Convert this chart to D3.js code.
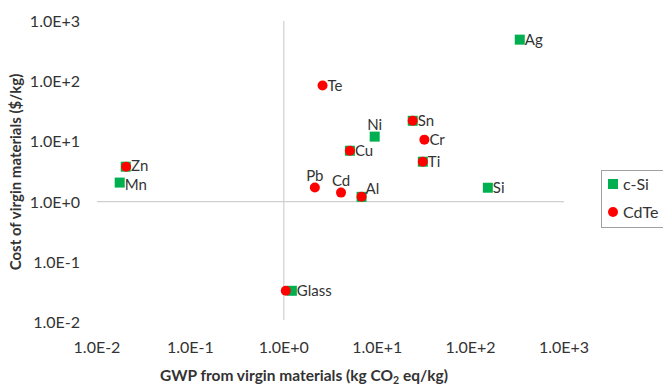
<!DOCTYPE html>
<html><head><meta charset="utf-8">
<script src="https://cdn.jsdelivr.net/npm/d3@7"></script>
<style>body{margin:0;background:#fff;overflow:hidden}svg{display:block}text{font-family:Lato,"Open Sans",sans-serif}</style>
</head><body>
<script>
// Data (GWP kg CO2 eq/kg, cost $/kg)
const materials = ["Ag","Ni","Sn","Cu","Ti","Si","Al","Zn","Mn","Glass","Te","Cr","Pb","Cd"];
const cSiMaterials = ["Ag","Ni","Sn","Cu","Ti","Si","Al","Zn","Mn","Glass"];
const cSiGWP  = [336, 9.4, 24, 5.1, 30.8, 153, 6.8, 0.0203, 0.0175, 1.22];
const cSiCost = [490, 12, 22, 7.0, 4.6, 1.7, 1.2, 3.8, 2.07, 0.033];
const cdTeMaterials = ["Te","Sn","Cr","Cu","Ti","Pb","Cd","Al","Zn","Glass"];
const cdTeGWP  = [2.6, 24, 32, 5.1, 30.8, 2.15, 4.1, 6.8, 0.0205, 1.05];
const cdTeCost = [85, 22, 10.7, 7.0, 4.6, 1.71, 1.41, 1.2, 3.8, 0.033];
const xTicks = [1e-2, 1e-1, 1e0, 1e1, 1e2, 1e3];
const yTicks = [1e-2, 1e-1, 1e0, 1e1, 1e2, 1e3];
const seriesNames = ["c-Si", "CdTe"];

// Label anchoring: which series point each label is attached to and placement
const labelSource = {Ag:"c-Si",Ni:"c-Si",Sn:"CdTe",Cu:"CdTe",Ti:"CdTe",Si:"c-Si",Al:"CdTe",Zn:"CdTe",Mn:"c-Si",Glass:"c-Si",Te:"CdTe",Cr:"CdTe",Pb:"CdTe",Cd:"CdTe"};
const labelPlace = {Ni:"above",Pb:"above",Cd:"above",Al:"upright"};
const labelNudge = {Zn:-1.5, Mn:1.5};

const W = 663, H = 385;
const ink = "#333333";
const svg = d3.select("body").append("svg").attr("width", W).attr("height", H);
const x = d3.scaleLog().domain([1e-2, 1e3]).range([97, 564]);
const y = d3.scaleLog().domain([1e-2, 1e3]).range([322, 21]);
const fmt = v => { const e = Math.round(Math.log10(v)); return "1.0E" + (e >= 0 ? "+" : "-") + Math.abs(e); };

// crossing axes lines
svg.append("line").attr("x1", x(1e-2)).attr("x2", x(1e3)).attr("y1", y(1)).attr("y2", y(1))
  .attr("stroke", "#d0d0d0").attr("stroke-width", 1.2);
svg.append("line").attr("x1", x(1)).attr("x2", x(1)).attr("y1", y(1e3)).attr("y2", y(1e-2) - 2)
  .attr("stroke", "#d0d0d0").attr("stroke-width", 1.2);

// tick labels
svg.append("g").selectAll("text").data(xTicks).join("text")
  .attr("x", d => x(d)).attr("y", 353).attr("text-anchor", "middle")
  .attr("font-size", 16).attr("fill", ink).text(fmt);
svg.append("g").selectAll("text").data(yTicks).join("text")
  .attr("x", 80).attr("y", d => y(d) + 6).attr("text-anchor", "end")
  .attr("font-size", 16).attr("fill", ink).text(fmt);

// axis titles
const xt = svg.append("text").attr("x", 304).attr("y", 381).attr("text-anchor", "middle")
  .attr("font-size", 15.5).attr("font-weight", "bold").attr("fill", ink);
xt.append("tspan").text("GWP from virgin materials (kg CO");
xt.append("tspan").attr("font-size", 10.5).attr("dy", 3).text("2");
xt.append("tspan").attr("dy", -3).text(" eq/kg)");
svg.append("text").attr("transform", "translate(21,172) rotate(-90)").attr("text-anchor", "middle")
  .attr("font-size", 15).attr("font-weight", "bold").attr("fill", ink)
  .text("Cost of virgin materials ($/kg)");

const green = "#00B050", red = "#FF0000";
const cSi = cSiMaterials.map((m, i) => ({m, gx: cSiGWP[i], c: cSiCost[i], s: "c-Si"}));
const cdTe = cdTeMaterials.map((m, i) => ({m, gx: cdTeGWP[i], c: cdTeCost[i], s: "CdTe"}));
const sq = 10;
svg.append("g").selectAll("rect").data(cSi).join("rect")
  .attr("x", d => x(d.gx) - sq/2).attr("y", d => y(d.c) - sq/2)
  .attr("width", sq).attr("height", sq).attr("fill", green);
svg.append("g").selectAll("circle").data(cdTe).join("circle")
  .attr("cx", d => x(d.gx)).attr("cy", d => y(d.c)).attr("r", 5).attr("fill", red);

// data labels
const all = cSi.concat(cdTe);
const labels = materials.map(m => all.find(d => d.m === m && d.s === labelSource[m]));
svg.append("g").selectAll("text").data(labels).join("text")
  .attr("font-size", 15).attr("fill", ink)
  .attr("x", d => { const p = labelPlace[d.m]; return p === "above" ? x(d.gx) : x(d.gx) + (p === "upright" ? 4 : 5); })
  .attr("y", d => { const p = labelPlace[d.m]; const n = labelNudge[d.m] || 0;
      return (p === "above" ? y(d.c) - 7 : p === "upright" ? y(d.c) - 3 : y(d.c) + 5.5) + n; })
  .attr("text-anchor", d => labelPlace[d.m] === "above" ? "middle" : "start")
  .text(d => d.m);

// legend
const lg = svg.append("g");
lg.append("rect").attr("x", 601.5).attr("y", 170.5).attr("width", 80).attr("height", 57)
  .attr("fill", "#fff").attr("stroke", "#a0a0a0");
lg.append("rect").attr("x", 608).attr("y", 179).attr("width", 10).attr("height", 10).attr("fill", green);
lg.append("circle").attr("cx", 613).attr("cy", 212).attr("r", 5).attr("fill", red);
lg.selectAll("text.l").data(seriesNames).join("text").attr("class", "l")
  .attr("x", 623).attr("y", (d, i) => 190 + i * 28).attr("font-size", 16).attr("fill", ink).text(d => d);
</script>
</body></html>
